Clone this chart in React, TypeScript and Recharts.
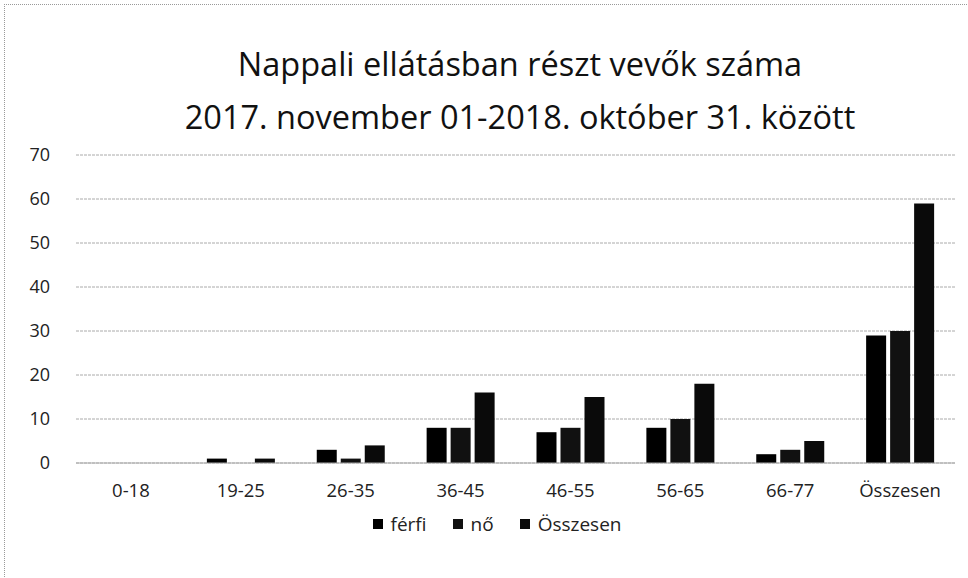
import React from "react";
import { BarChart, Bar, XAxis, YAxis, CartesianGrid, Legend } from "recharts";

const categories = ["0-18", "19-25", "26-35", "36-45", "46-55", "56-65", "66-77", "Összesen"];
const ferfi = [0, 1, 3, 8, 7, 8, 2, 29];
const no = [0, 0, 1, 8, 8, 10, 3, 30];
const osszesen = [0, 1, 4, 16, 15, 18, 5, 59];
const yTicks = [0, 10, 20, 30, 40, 50, 60, 70];
const titleLines = ["Nappali ellátásban részt vevők száma", "2017. november 01-2018. október 31. között"];

const data = categories.map((c, i) => ({ name: c, ferfi: ferfi[i], no: no[i], osszesen: osszesen[i] }));

const FONT = "'Open Sans', 'Noto Sans', sans-serif";

const LegendContent = (props: any) => {
  const { payload } = props;
  return (
    <div style={{ display: "flex", justifyContent: "center", alignItems: "center", fontSize: 19, fontFamily: FONT, color: "#222" }}>
      {(payload || []).map((p: any) => (
        <div key={p.value} style={{ display: "flex", alignItems: "center", marginRight: 26 }}>
          <span style={{ display: "inline-block", width: 10, height: 10, background: p.color, marginRight: 8 }} />
          <span>{p.value}</span>
        </div>
      ))}
    </div>
  );
};

export default function App() {
  return (
    <div style={{ position: "absolute", left: 0, top: 0, width: 968, height: 578, background: "#fff", fontFamily: FONT }}>
      <div style={{ position: "absolute", left: 4, top: 4, width: 964, height: 574, borderTop: "1px dotted #999", borderLeft: "1px dotted #999" }} />
      <div style={{ position: "absolute", left: 0, top: 37, width: 1040, textAlign: "center", fontSize: 32.5, lineHeight: "53px", color: "#111" }}>
        {titleLines.map((t) => (
          <div key={t}>{t}</div>
        ))}
      </div>
      <div style={{ position: "absolute", left: 0, top: 0 }}>
        <BarChart
          width={968}
          height={578}
          data={data}
          margin={{ top: 155, right: 13, bottom: 59, left: 0 }}
          barCategoryGap={21}
          barGap={4}
        >
          <CartesianGrid vertical={false} stroke="#aaa" strokeDasharray="3 1" />
          <XAxis
            dataKey="name"
            axisLine={{ stroke: "#aaa" }}
            tickLine={false}
            tick={{ fill: "#222", fontSize: 18.5, fontFamily: FONT }}
            tickMargin={15}
          />
          <YAxis
            width={76}
            domain={[0, 70]}
            ticks={yTicks}
            axisLine={false}
            tickLine={false}
            tick={{ fill: "#222", fontSize: 18, fontFamily: FONT }}
            tickMargin={20}
          />
          <Legend
            verticalAlign="bottom"
            content={<LegendContent />}
            wrapperStyle={{ left: 26, width: 968, bottom: 41 }}
          />
          <Bar dataKey="ferfi" name="férfi" fill="#000" isAnimationActive={false} />
          <Bar dataKey="no" name="nő" fill="#111" isAnimationActive={false} />
          <Bar dataKey="osszesen" name="Összesen" fill="#0a0a0a" isAnimationActive={false} />
        </BarChart>
      </div>
    </div>
  );
}
